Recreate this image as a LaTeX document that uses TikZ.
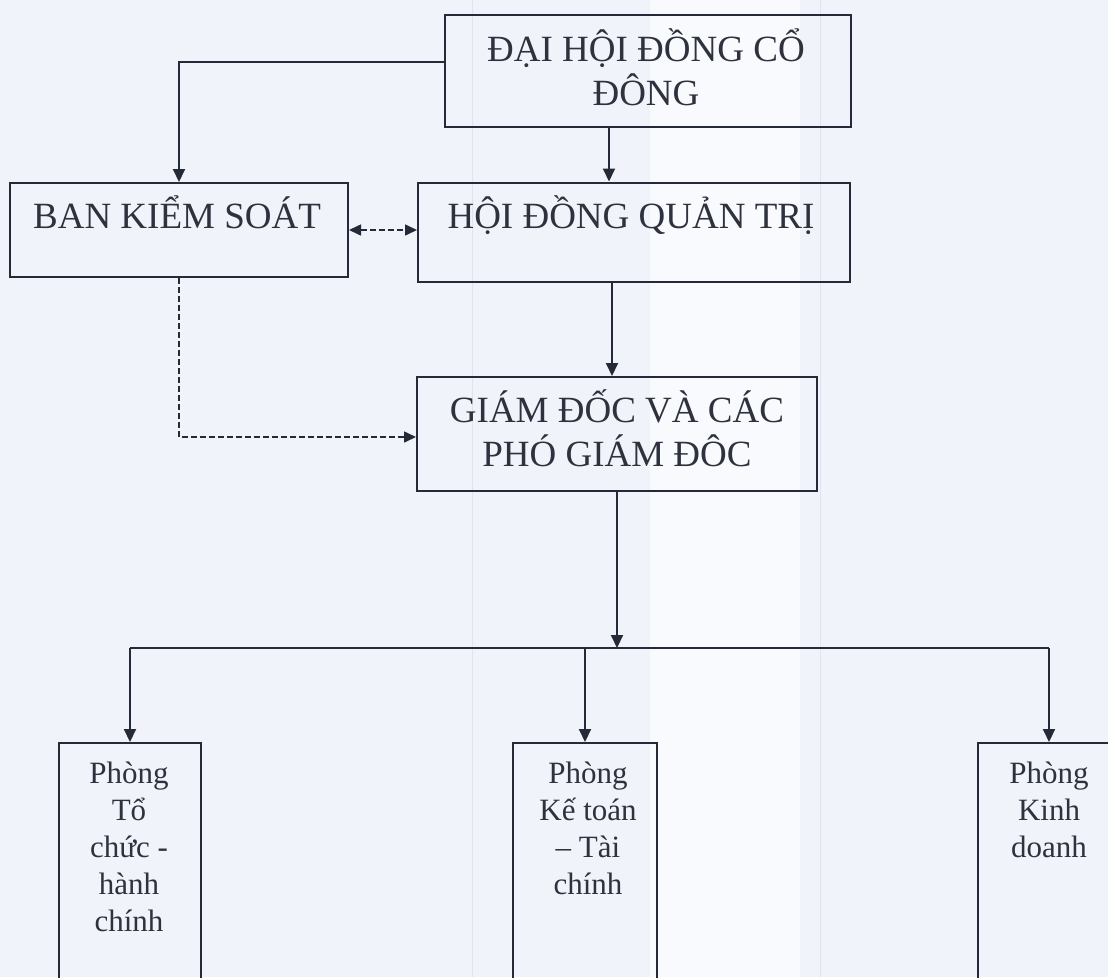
\documentclass[tikz,border=0pt]{standalone}
\usepackage{fontspec}
\setmainfont{Liberation Serif}
\usetikzlibrary{arrows.meta}
\definecolor{paper}{RGB}{241,243,250}
\definecolor{paperhi}{RGB}{249,250,253}
\definecolor{stripe}{RGB}{224,228,241}
\definecolor{ink}{RGB}{36,42,56}
\definecolor{txt}{RGB}{45,50,62}
\tikzset{
  box/.style={draw=ink, line width=2pt, inner sep=0pt, rectangle},
  big/.style={text=txt, inner sep=0pt, align=center, font=\fontsize{37}{44}\selectfont},
  small/.style={text=txt, inner sep=0pt, align=center, font=\fontsize{31}{37}\selectfont},
  arr/.style={draw=ink, line width=2pt, -{Triangle[length=13pt,width=12pt]}},
  darr/.style={draw=ink, line width=1.6pt, dash pattern=on 6pt off 3pt, -{Triangle[length=12pt,width=11pt]}},
  ddarr/.style={draw=ink, line width=1.6pt, dash pattern=on 6pt off 3pt, {Triangle[length=12pt,width=11pt]}-{Triangle[length=12pt,width=11pt]}},
  line/.style={draw=ink, line width=2pt}
}
\begin{document}
\begin{tikzpicture}[x=1pt,y=-1pt]
\useasboundingbox (0,0) rectangle (1108,977);
% paper
\fill[paper] (0,0) rectangle (1108,977);
\fill[paperhi] (650,0) rectangle (800,977);
\draw[stripe, line width=0.8pt] (472,0) -- (472,977);
\draw[stripe, line width=0.8pt] (820,0) -- (820,977);

% boxes
\node[box, minimum width=406pt, minimum height=112pt] (dh) at (648,71) {};
\node[box, minimum width=338pt, minimum height=94pt] (bks) at (179,230) {};
\node[box, minimum width=432pt, minimum height=99pt] (hq) at (634,232) {};
\node[box, minimum width=400pt, minimum height=114pt] (gd) at (617,434) {};
\node[box, minimum width=142pt, minimum height=280pt] (p1) at (130,883) {};
\node[box, minimum width=144pt, minimum height=280pt] (p2) at (585,883) {};
\node[box, minimum width=142pt, minimum height=280pt] (p3) at (1049,883) {};

% texts (anchor=base is the baseline of the last line)
\node[big, anchor=base] (tdh) at (646,105) {ĐẠI HỘI ĐỒNG CỔ\\ĐÔNG};
\node[big, anchor=base] (tbks) at (177,228) {BAN KIỂM SOÁT};
\node[big, anchor=base] (thq) at (631,228) {HỘI ĐỒNG QUẢN TRỊ};
\node[big, anchor=base] (tgd) at (617,466) {GIÁM ĐỐC VÀ CÁC\\PHÓ GIÁM ĐÔC};
\node[small, anchor=base] (tp1) at (129,931) {Phòng\\Tổ\\chức -\\hành\\chính};
\node[small, anchor=base] (tp2) at (588,894) {Phòng\\Kế toán\\– Tài\\chính};
\node[small, anchor=base] (tp3) at (1049,857) {Phòng\\Kinh\\doanh};

% connectors
\draw[arr] ([yshift=9pt]dh.west) -| (bks.north);
\draw[arr] ([xshift=-39pt]dh.south) -- ([xshift=-39pt]dh.south |- hq.north);
\draw[ddarr] (bks.east) -- (bks.east -| hq.west);
\draw[arr] ([xshift=-22pt]hq.south) -- ([xshift=-22pt]hq.south |- gd.north);
\draw[darr] (bks.south) |- ([yshift=-3pt]gd.west);
\coordinate (bus) at (617,648);
\draw[arr] (gd.south) -- (bus);
\draw[line] (p1.north |- bus) -- (p3.north |- bus);
\draw[arr] (p1.north |- bus) -- (p1.north);
\draw[arr] (p2.north |- bus) -- (p2.north);
\draw[arr] (p3.north |- bus) -- (p3.north);
\end{tikzpicture}
\end{document}
